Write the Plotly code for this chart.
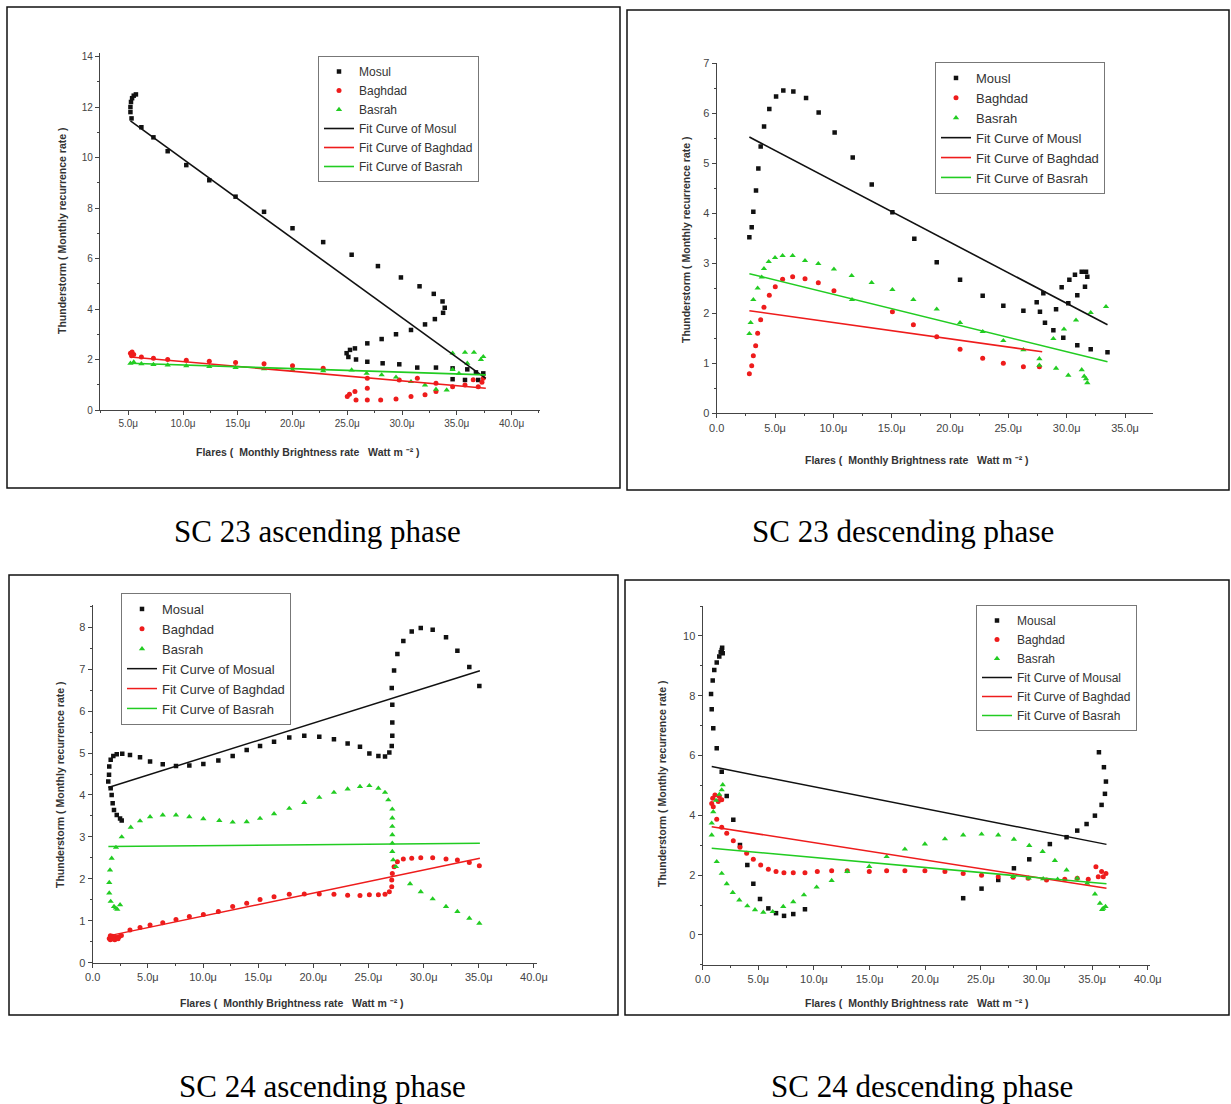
import plotly.graph_objects as go

W, H = 1231, 1104

# ---------------- SC 23 ascending phase ----------------
mosul_23a_x = [5.3, 5.2, 5.2, 5.25, 5.35, 5.5, 5.7, 6.2, 7.3, 8.6, 10.3, 12.4, 14.8, 17.4, 20.0, 22.8, 25.4, 27.8,
               29.9, 31.6, 32.9, 33.7, 33.9, 33.75, 33.0, 32.1, 30.82, 29.45, 28.14, 26.83, 25.7, 25.25, 24.94, 25.1,
               25.8, 26.83, 28.23, 29.75, 31.39, 33.1, 34.62, 34.62, 35.75, 35.96, 36.75, 37.42, 36.96]
mosul_23a_y = [11.55, 11.8, 12.0, 12.2, 12.35, 12.45, 12.5, 11.2, 10.8, 10.25, 9.7, 9.1, 8.45, 7.85, 7.2, 6.65, 6.15, 5.7,
               5.25, 4.9, 4.6, 4.3, 4.05, 3.85, 3.6, 3.39, 3.17, 3.0, 2.81, 2.64, 2.44, 2.38, 2.25, 2.1,
               2.0, 1.91, 1.85, 1.81, 1.68, 1.68, 1.65, 1.22, 1.19, 1.61, 1.49, 1.45, 1.19]
baghdad_23a_x = [5.2, 5.35, 5.5, 5.3, 6.2, 7.3, 8.6, 10.3, 12.4, 14.8, 17.4, 20.0, 22.8, 25.0, 25.2, 25.7, 25.8, 26.83,
                 26.83, 28.05, 29.45, 30.82, 32.1, 33.1, 26.83, 29.75, 31.4, 33.1, 34.62, 35.75, 36.96, 37.42, 37.3, 36.5]
baghdad_23a_y = [2.25, 2.3, 2.2, 2.15, 2.1, 2.05, 2.0, 1.97, 1.93, 1.88, 1.83, 1.75, 1.65, 0.53, 0.62, 0.73, 0.4, 0.86,
                 0.4, 0.4, 0.44, 0.53, 0.6, 0.73, 1.26, 1.19, 1.26, 1.06, 0.92, 0.99, 0.92, 1.26, 1.1, 1.2]
basrah_23a_x = [5.2, 5.5, 6.2, 7.3, 8.6, 10.3, 12.4, 14.8, 17.4, 20.0, 22.8, 25.4, 26.77, 28.14, 29.45, 30.82, 32.1,
                33.1, 34.08, 34.62, 35.75, 36.57, 37.42, 37.2, 35.96, 34.62, 35.2]
basrah_23a_y = [1.85, 1.9, 1.83, 1.8, 1.78, 1.75, 1.72, 1.68, 1.63, 1.58, 1.55, 1.58, 1.45, 1.39, 1.3, 1.12, 0.99,
                0.82, 0.79, 2.25, 2.28, 2.28, 2.11, 2.0, 1.85, 1.6, 1.45]
fit_23a_x = [5.2, 37.65]
fit_mosul_23a_y = [11.45, 1.25]
fit_baghdad_23a_y = [2.1, 0.86]
fit_basrah_23a_y = [1.85, 1.39]

# ---------------- SC 23 descending phase ----------------
mosul_23d_x = [2.8, 3.0, 3.14, 3.37, 3.57, 3.77, 4.06, 4.51, 5.09, 5.71, 6.57, 7.66, 8.74, 10.11, 11.66, 13.29, 15.06,
               16.94, 18.86, 20.86, 22.8, 24.57, 26.29, 27.71, 27.43, 28.0, 28.14, 28.86, 29.09, 29.71, 29.57, 30.14,
               30.23, 30.71, 30.91, 30.91, 31.29, 31.66, 31.77, 31.57, 32.06, 33.5]
mosul_23d_y = [3.52, 3.72, 4.03, 4.45, 4.89, 5.33, 5.73, 6.08, 6.33, 6.45, 6.43, 6.3, 6.01, 5.61, 5.11, 4.57, 4.02,
               3.49, 3.02, 2.67, 2.35, 2.15, 2.05, 2.03, 2.22, 2.40, 1.81, 1.66, 2.08, 1.51, 2.52, 2.20,
               2.67, 2.77, 2.36, 1.36, 2.83, 2.83, 2.73, 2.53, 1.28, 1.22]
baghdad_23d_x = [2.8, 3.0, 3.14, 3.34, 3.51, 3.77, 4.05, 4.51, 5.02, 5.65, 6.51, 7.57, 8.71, 10.05, 15.06, 16.86,
                 18.86, 20.86, 22.8, 24.57, 26.29, 27.66]
baghdad_23d_y = [0.79, 0.95, 1.15, 1.35, 1.60, 1.87, 2.12, 2.36, 2.53, 2.68, 2.73, 2.69, 2.61, 2.45, 2.03, 1.77,
                 1.53, 1.28, 1.1, 1.0, 0.93, 0.93]
basrah_23d_x = [2.8, 2.91, 3.14, 3.51, 3.86, 4.05, 4.46, 5.0, 5.65, 6.51, 7.57, 8.71, 10.05, 11.57, 13.28, 15.06,
                16.86, 18.86, 20.86, 22.8, 24.57, 26.29, 27.66, 27.66, 29.09, 30.14, 31.29, 31.66, 31.77, 31.5,
                28.86, 29.77, 30.8, 32.06, 33.37, 11.6]
basrah_23d_y = [1.59, 1.81, 2.27, 2.5, 2.72, 2.89, 3.03, 3.11, 3.15, 3.15, 3.05, 2.99, 2.88, 2.75, 2.61, 2.47,
                2.27, 2.08, 1.81, 1.63, 1.45, 1.27, 1.09, 0.96, 0.9, 0.76, 0.87, 0.69, 0.61, 0.74,
                1.49, 1.68, 1.86, 2.01, 2.13, 2.27]
fit_23d_x = [2.8, 33.5]
fit_mosul_23d_y = [5.52, 1.77]
fit_baghdad_23d_x = [2.8, 27.9]
fit_baghdad_23d_y = [2.05, 1.23]
fit_basrah_23d_y = [2.79, 1.03]

# ---------------- SC 24 ascending phase ----------------
mosul_24a_x = [1.63, 1.41, 1.48, 1.5, 1.63, 1.87, 2.18, 2.68, 3.38, 4.29, 5.2, 6.35, 7.55, 8.76, 10.03, 11.39, 12.69,
               13.96, 15.17, 16.44, 17.82, 19.18, 20.54, 21.87, 23.11, 24.23, 25.08, 25.9, 26.5, 26.89, 27.11, 27.16,
               27.16, 27.16, 27.11, 27.32, 27.62, 28.16, 28.92, 29.74, 30.82, 32.03, 33.06, 34.14, 35.05,
               1.72, 1.81, 1.93, 2.18, 2.48, 2.63]
mosul_24a_y = [4.16, 4.32, 4.48, 4.68, 4.84, 4.93, 4.97, 4.98, 4.95, 4.9, 4.8, 4.73, 4.69, 4.7, 4.74, 4.82, 4.93,
               5.07, 5.17, 5.27, 5.37, 5.41, 5.39, 5.33, 5.23, 5.15, 4.99, 4.93, 4.92, 5.01, 5.17, 5.41,
               5.73, 6.15, 6.55, 6.97, 7.36, 7.67, 7.9, 7.98, 7.94, 7.76, 7.44, 7.05, 6.6,
               4.0, 3.8, 3.64, 3.52, 3.44, 3.39]
baghdad_24a_x = [1.5, 1.6, 1.75, 1.9, 2.05, 2.2, 2.4, 2.6, 1.6, 1.8, 2.0, 2.3, 3.38, 4.29, 5.2, 6.35, 7.55, 8.76,
                 10.03, 11.39, 12.69, 13.96, 15.17, 16.44, 17.82, 19.18, 20.54, 21.87, 23.11, 24.23, 25.08, 25.9,
                 26.5, 26.89, 27.11, 27.11, 27.16, 27.32, 27.62, 28.16, 28.92, 29.74, 30.82, 32.03, 33.06, 34.14, 35.05]
baghdad_24a_y = [0.58, 0.55, 0.57, 0.58, 0.6, 0.6, 0.62, 0.65, 0.64, 0.63, 0.55, 0.57, 0.78, 0.84, 0.9, 0.95, 1.03,
                 1.1, 1.15, 1.22, 1.34, 1.42, 1.51, 1.57, 1.63, 1.64, 1.64, 1.63, 1.61, 1.6, 1.62, 1.62,
                 1.63, 1.69, 1.81, 1.97, 2.13, 2.29, 2.41, 2.47, 2.49, 2.5, 2.5, 2.47, 2.45, 2.39, 2.31]
basrah_24a_x = [2.11, 1.72, 1.57, 1.5, 1.5, 1.63, 1.93, 2.23, 2.48, 2.1, 2.63, 3.45, 4.29, 5.2, 6.35, 7.55, 8.76,
                10.03, 11.48, 12.69, 13.96, 15.17, 16.44, 17.82, 19.18, 20.54, 21.87, 23.11, 24.23, 25.08, 25.9,
                26.5, 26.8, 27.16, 27.16, 27.16, 27.16, 27.16, 27.16, 27.24, 27.49, 28.77, 29.74, 30.82, 32.03,
                33.06, 34.14, 35.05]
basrah_24a_y = [2.75, 2.49, 2.21, 1.91, 1.66, 1.46, 1.34, 1.27, 1.38, 1.3, 3.0, 3.23, 3.38, 3.48, 3.52, 3.52, 3.48,
                3.43, 3.39, 3.35, 3.36, 3.44, 3.55, 3.68, 3.82, 3.94, 4.06, 4.14, 4.2, 4.22, 4.16,
                4.06, 3.88, 3.66, 3.45, 3.25, 3.05, 2.85, 2.65, 2.45, 2.29, 1.88, 1.69, 1.52, 1.34,
                1.22, 1.06, 0.94]
fit_24a_x = [1.42, 35.1]
fit_mosul_24a_y = [4.18, 6.96]
fit_baghdad_24a_y = [0.64, 2.49]
fit_basrah_24a_y = [2.77, 2.85]

# ---------------- SC 24 descending phase ----------------
mosul_24d_x = [1.71, 1.8, 1.62, 1.75, 1.49, 1.26, 1.04, 0.9, 0.75, 0.81, 0.95, 1.26, 1.71, 2.16, 2.75, 3.35, 4.01,
               4.55, 5.15, 5.9, 6.59, 7.31, 8.14, 9.19, 23.41, 25.06, 26.56, 27.97, 29.35, 31.2, 32.7, 33.66, 34.5,
               35.25, 35.85, 36.15, 36.24, 36.06, 35.61]
mosul_24d_y = [9.53, 9.42, 9.45, 9.6, 9.31, 9.11, 8.86, 8.51, 8.06, 7.55, 6.91, 6.24, 5.46, 4.65, 3.85, 3.01, 2.34,
               1.71, 1.2, 0.89, 0.73, 0.64, 0.7, 0.86, 1.23, 1.55, 1.84, 2.23, 2.53, 3.04, 3.27, 3.49, 3.71,
               3.99, 4.35, 4.72, 5.13, 5.61, 6.11]
baghdad_24d_x = [0.81, 0.9, 1.1, 1.49, 1.71, 1.4, 0.95, 1.26, 1.71, 2.16, 2.75, 3.35, 3.95, 4.55, 5.21, 5.9, 6.59,
                 7.3, 8.14, 9.19, 10.3, 11.59, 12.99, 14.97, 16.53, 18.17, 19.97, 21.77, 23.41, 25.06, 26.56, 27.9,
                 29.25, 30.9, 32.54, 33.66, 34.65, 35.34, 35.85, 36.24, 36.0, 35.55]
baghdad_24d_y = [4.4, 4.57, 4.68, 4.63, 4.52, 4.46, 4.29, 3.87, 3.6, 3.4, 3.15, 2.93, 2.73, 2.53, 2.34, 2.2, 2.12,
                 2.08, 2.08, 2.08, 2.12, 2.15, 2.15, 2.12, 2.15, 2.15, 2.15, 2.12, 2.06, 2.0, 1.95, 1.93,
                 1.9, 1.84, 1.86, 1.9, 1.86, 2.28, 2.12, 2.06, 1.95, 1.95]
basrah_24d_x = [1.8, 1.71, 1.49, 1.2, 0.95, 0.81, 0.81, 1.26, 1.71, 2.16, 2.7, 3.29, 4.01, 4.7, 5.45, 6.29, 7.24,
                8.14, 9.1, 10.24, 11.59, 12.99, 14.97, 16.53, 18.17, 19.97, 21.77, 23.41, 25.06, 26.56, 27.97,
                29.35, 30.55, 31.65, 32.7, 33.66, 34.55, 35.25, 35.7, 36.0, 36.2, 35.9, 27.9, 29.3, 30.6, 31.9]
basrah_24d_y = [5.02, 4.85, 4.7, 4.5, 4.12, 3.74, 3.34, 2.45, 2.06, 1.71, 1.42, 1.17, 0.97, 0.84, 0.76, 0.78, 0.95,
                1.11, 1.34, 1.6, 1.82, 2.12, 2.29, 2.62, 2.87, 3.04, 3.21, 3.34, 3.37, 3.34, 3.2,
                2.99, 2.79, 2.49, 2.17, 1.9, 1.73, 1.37, 1.06, 0.89, 0.95, 0.85, 1.95, 1.9, 1.88, 1.86]
fit_24d_x = [0.81, 36.29]
fit_mosul_24d_y = [5.63, 3.03]
fit_baghdad_24d_y = [3.62, 1.56]
fit_basrah_24d_y = [2.9, 1.71]

# ---------------- tick labels & texts ----------------
xticks_23a = [5, 10, 15, 20, 25, 30, 35, 40]
xlabels_23a = ["5.0\u03bc", "10.0\u03bc", "15.0\u03bc", "20.0\u03bc", "25.0\u03bc", "30.0\u03bc", "35.0\u03bc", "40.0\u03bc"]
xticks_23d = [0, 5, 10, 15, 20, 25, 30, 35]
xlabels_23d = ["0.0", "5.0\u03bc", "10.0\u03bc", "15.0\u03bc", "20.0\u03bc", "25.0\u03bc", "30.0\u03bc", "35.0\u03bc"]
xticks_24 = [0, 5, 10, 15, 20, 25, 30, 35, 40]
xlabels_24 = ["0.0", "5.0\u03bc", "10.0\u03bc", "15.0\u03bc", "20.0\u03bc", "25.0\u03bc", "30.0\u03bc", "35.0\u03bc", "40.0\u03bc"]

captions = ["SC 23 ascending phase", "SC 23 descending phase", "SC 24 ascending phase", "SC 24 descending phase"]
city_names = [["Mosul", "Baghdad", "Basrah"], ["Mousl", "Baghdad", "Basrah"],
              ["Mosual", "Baghdad", "Basrah"], ["Mousal", "Baghdad", "Basrah"]]
y_title = "Thunderstorm ( Monthly recurrence rate )"
x_title = "Flares (  Monthly Brightness rate   Watt m \u207b\u00b2 )"

FONT = "Liberation Sans, Arial, sans-serif"
BLACK, RED, GREEN = "#111111", "#ee1c1c", "#22cc22"


def fx(p):
    return p / W


def fy(p):
    return 1 - p / H


fig = go.Figure()

panels = [
    dict(scat=[(mosul_23a_x, mosul_23a_y), (baghdad_23a_x, baghdad_23a_y), (basrah_23a_x, basrah_23a_y)],
         fits=[(fit_23a_x, fit_mosul_23a_y), (fit_23a_x, fit_baghdad_23a_y), (fit_23a_x, fit_basrah_23a_y)],
         box=(100, 540, 410, 53), xr=[2.42, 42.6], yr=[0, 14.14], xt=(xticks_23a, xlabels_23a),
         yt=[0, 2, 4, 6, 8, 10, 12, 14], ymin=1, tfs=10, lfs=12, leg=(318, 56),
         ytp=(62, 231), xtp=(308, 452), frame=(7, 7, 620, 488), cap=(317, 532), lw=1.6),
    dict(scat=[(mosul_23d_x, mosul_23d_y), (baghdad_23d_x, baghdad_23d_y), (basrah_23d_x, basrah_23d_y)],
         fits=[(fit_23d_x, fit_mosul_23d_y), (fit_baghdad_23d_x, fit_baghdad_23d_y), (fit_23d_x, fit_basrah_23d_y)],
         box=(716.7, 1153, 413.3, 63), xr=[0, 37.4], yr=[0, 7.0], xt=(xticks_23d, xlabels_23d),
         yt=[0, 1, 2, 3, 4, 5, 6, 7], ymin=0.5, tfs=11, lfs=13, leg=(935, 62),
         ytp=(686, 240), xtp=(917, 460), frame=(627, 10, 1229, 490), cap=(903, 532), lw=1.6),
    dict(scat=[(mosul_24a_x, mosul_24a_y), (baghdad_24a_x, baghdad_24a_y), (basrah_24a_x, basrah_24a_y)],
         fits=[(fit_24a_x, fit_mosul_24a_y), (fit_24a_x, fit_baghdad_24a_y), (fit_24a_x, fit_basrah_24a_y)],
         box=(92.7, 536.7, 962.7, 605), xr=[0, 40.25], yr=[0, 8.53], xt=(xticks_24, xlabels_24),
         yt=[0, 1, 2, 3, 4, 5, 6, 7, 8], ymin=0.5, tfs=11, lfs=13, leg=(121, 593),
         ytp=(60, 785), xtp=(292, 1003), frame=(9, 575, 618, 1015), cap=(322, 1086), lw=1.5),
    dict(scat=[(mosul_24d_x, mosul_24d_y), (baghdad_24d_x, baghdad_24d_y), (basrah_24d_x, basrah_24d_y)],
         fits=[(fit_24d_x, fit_mosul_24d_y), (fit_24d_x, fit_baghdad_24d_y), (fit_24d_x, fit_basrah_24d_y)],
         box=(702.7, 1150, 964.9, 606), xr=[0, 40.2], yr=[-1.0, 11.0], xt=(xticks_24, xlabels_24),
         yt=[0, 2, 4, 6, 8, 10], ymin=1, tfs=11, lfs=12, leg=(976, 605),
         ytp=(662, 784), xtp=(917, 1003), frame=(625, 580, 1229, 1015), cap=(922, 1086), lw=1.5),
]

markers = [dict(symbol="square", size=4.5, color=BLACK),
           dict(symbol="circle", size=5, color=RED),
           dict(symbol="triangle-up", size=5.5, color=GREEN)]
line_colors = [BLACK, RED, GREEN]

layout = dict(width=W, height=H, margin=dict(l=0, r=0, t=0, b=0, autoexpand=False),
              paper_bgcolor="white", plot_bgcolor="white", showlegend=True)
shapes, annotations = [], []

for i, p in enumerate(panels):
    n = i + 1
    sfx = "" if n == 1 else str(n)
    xa, ya, lg = "x" + sfx, "y" + sfx, "legend" + sfx
    names = city_names[i]
    for j, (xs, ys) in enumerate(p["scat"]):
        fig.add_trace(go.Scatter(x=xs, y=ys, mode="markers", name=names[j], marker=markers[j],
                                 xaxis=xa, yaxis=ya, legend=lg))
    for j, (xs, ys) in enumerate(p["fits"]):
        fig.add_trace(go.Scatter(x=xs, y=ys, mode="lines", name="Fit Curve of " + names[j],
                                 line=dict(color=line_colors[j], width=p["lw"]),
                                 xaxis=xa, yaxis=ya, legend=lg))
    x0, x1, yb, yt_ = p["box"]
    tickfont = dict(family=FONT, size=p["tfs"], color="#444")
    layout["xaxis" + sfx] = dict(domain=[fx(x0), fx(x1)], range=p["xr"], anchor=ya,
                                 tickvals=p["xt"][0], ticktext=p["xt"][1], showline=True, linecolor="#444",
                                 linewidth=1.3, ticks="outside", ticklen=4, tickcolor="#444", tickwidth=1,
                                 showgrid=False, zeroline=False, tickfont=tickfont,
                                 minor=dict(ticks="outside", ticklen=2, tickcolor="#444", tick0=0, dtick=2.5,
                                            showgrid=False))
    layout["yaxis" + sfx] = dict(domain=[fy(yb), fy(yt_)], range=p["yr"], anchor=xa,
                                 tickvals=p["yt"], showline=True, linecolor="#444", linewidth=1.3,
                                 ticks="outside", ticklen=4, tickcolor="#444", tickwidth=1,
                                 showgrid=False, zeroline=False, tickfont=tickfont,
                                 minor=dict(ticks="outside", ticklen=2, tickcolor="#444", tick0=0,
                                            dtick=p["ymin"], showgrid=False))
    lx, ly = p["leg"]
    layout[lg] = dict(x=fx(lx), y=fy(ly), xanchor="left", yanchor="top", bgcolor="rgba(255,255,255,0.9)",
                      bordercolor="#777", borderwidth=1, font=dict(family=FONT, size=p["lfs"], color="#333"),
                      tracegroupgap=0, itemwidth=30)
    fl, ft, fr, fb = p["frame"]
    shapes.append(dict(type="rect", xref="paper", yref="paper", x0=fx(fl), x1=fx(fr), y0=fy(fb), y1=fy(ft),
                       line=dict(color="#111", width=1.5), fillcolor="rgba(0,0,0,0)", layer="above"))
    tx, ty = p["ytp"]
    annotations.append(dict(text=y_title, x=fx(tx), y=fy(ty), xref="paper", yref="paper", showarrow=False,
                            textangle=-90, xanchor="center", yanchor="middle",
                            font=dict(family=FONT, size=10.5, color="#333", weight="bold")))
    tx, ty = p["xtp"]
    annotations.append(dict(text=x_title, x=fx(tx), y=fy(ty), xref="paper", yref="paper", showarrow=False,
                            xanchor="center", yanchor="middle",
                            font=dict(family=FONT, size=10.5, color="#333", weight="bold")))
    cx, cy = p["cap"]
    annotations.append(dict(text=captions[i], x=fx(cx), y=fy(cy), xref="paper", yref="paper", showarrow=False,
                            xanchor="center", yanchor="middle",
                            font=dict(family="Liberation Serif, Times New Roman, serif", size=31, color="#000")))

layout["shapes"] = shapes
layout["annotations"] = annotations
fig.update_layout(**layout)
fig.write_html("out.html",
               post_script="document.body.style.margin='0';document.body.style.overflow='hidden';")
